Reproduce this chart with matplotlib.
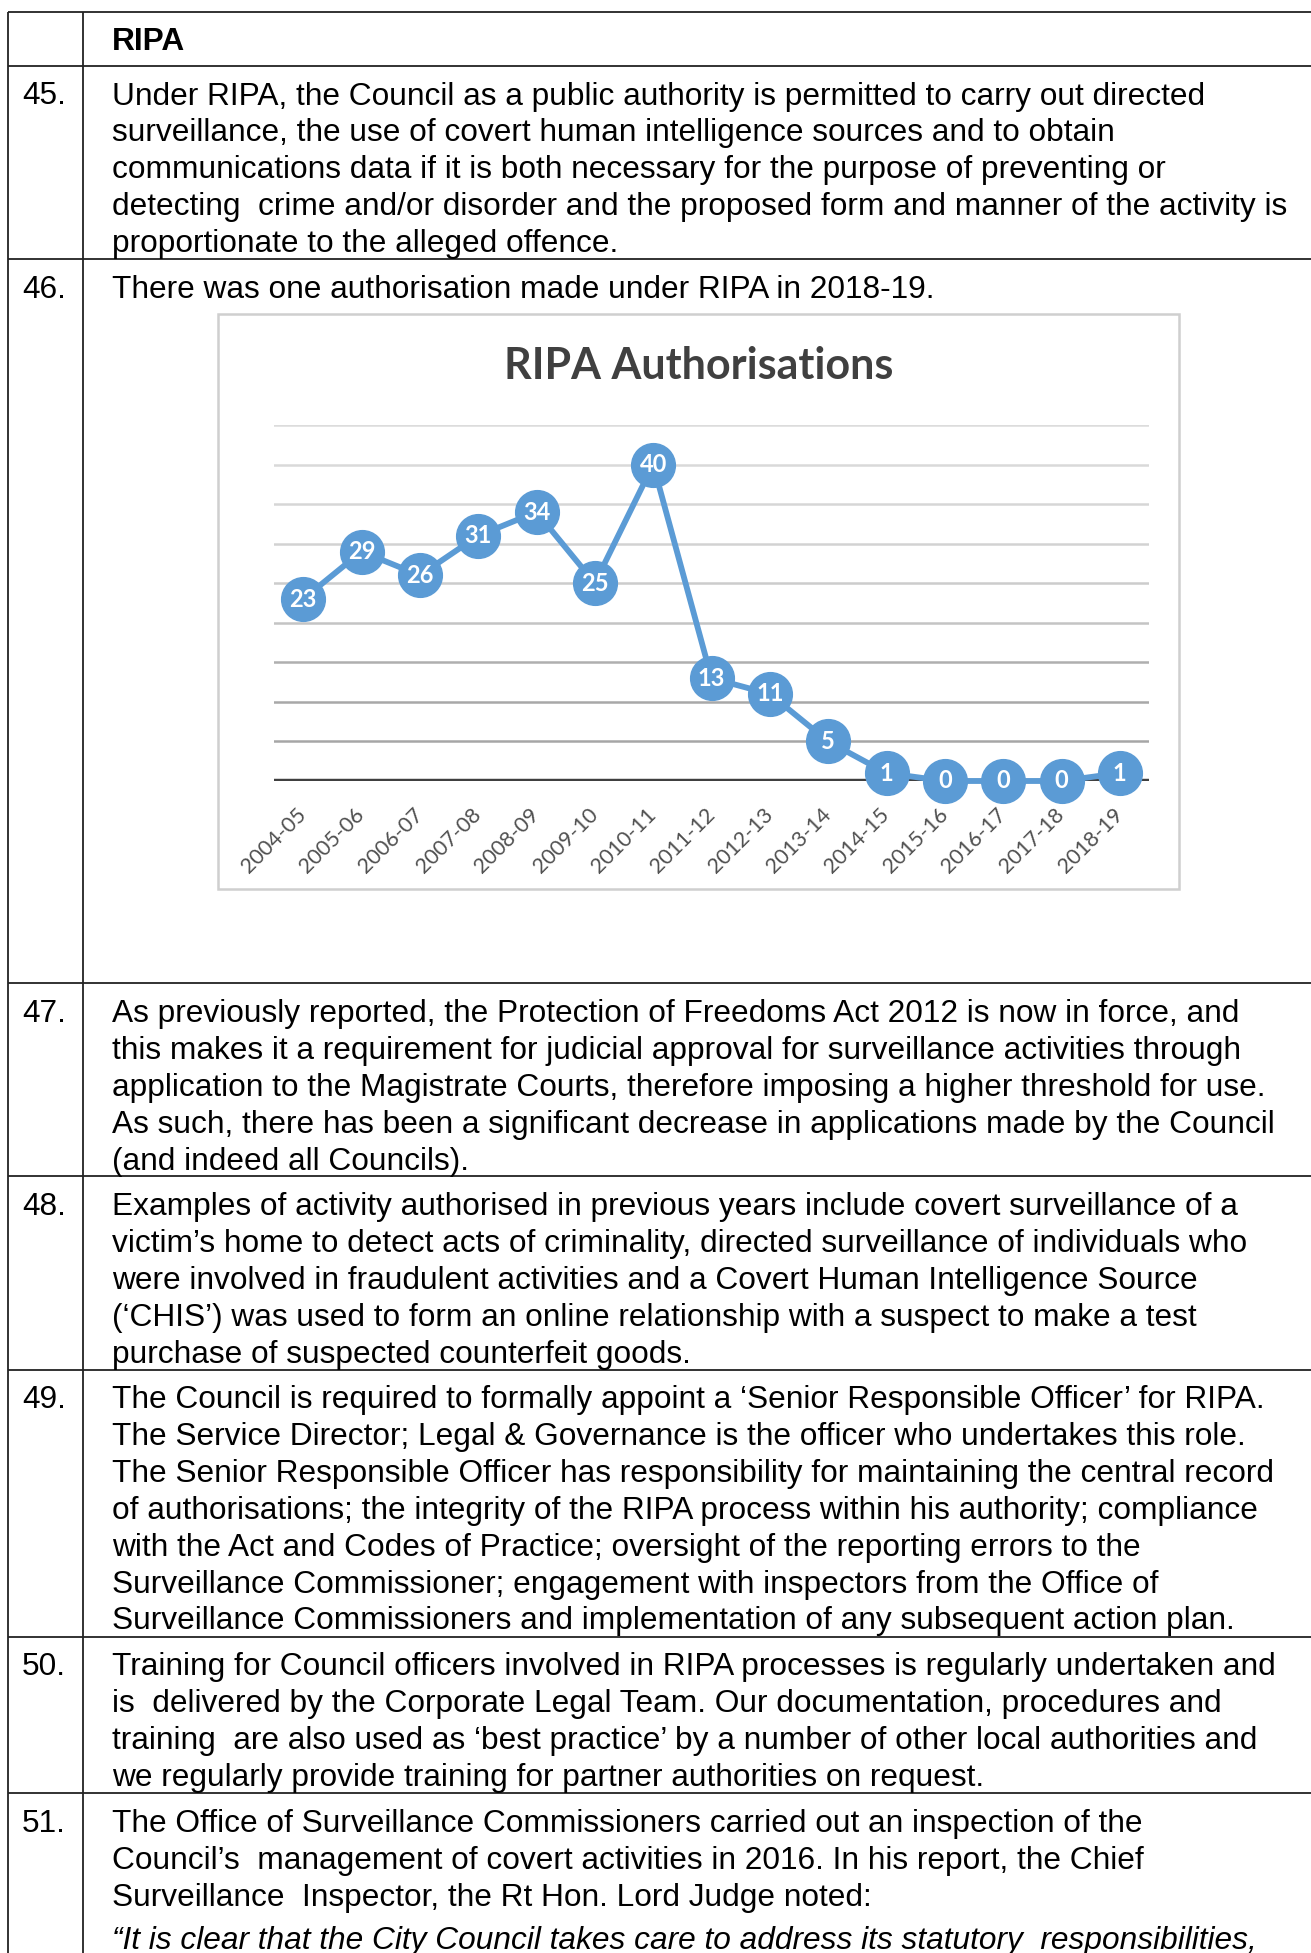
import matplotlib.pyplot as plt
from matplotlib.patches import Rectangle

# chart data
years = ['2004-05', '2005-06', '2006-07', '2007-08', '2008-09', '2009-10', '2010-11',
         '2011-12', '2012-13', '2013-14', '2014-15', '2015-16', '2016-17', '2017-18', '2018-19']
authorisations = [23, 29, 26, 31, 34, 25, 40, 13, 11, 5, 1, 0, 0, 0, 1]
grid_values = [5, 10, 15, 20, 25, 30, 35, 40, 45]
chart_title = 'RIPA Authorisations'

# document text, one list of lines per numbered paragraph
header = 'RIPA'
para_numbers = ['45.', '46.', '47.', '48.', '49.', '50.', '51.']
para_45 = ['Under RIPA, the Council as a public authority is permitted to carry out directed',
           'surveillance, the use of covert human intelligence sources and to obtain',
           'communications data if it is both necessary for the purpose of preventing or',
           'detecting  crime and/or disorder and the proposed form and manner of the activity is',
           'proportionate to the alleged offence.']
para_46 = ['There was one authorisation made under RIPA in 2018-19.']
para_47 = ['As previously reported, the Protection of Freedoms Act 2012 is now in force, and',
           'this makes it a requirement for judicial approval for surveillance activities through',
           'application to the Magistrate Courts, therefore imposing a higher threshold for use.',
           'As such, there has been a significant decrease in applications made by the Council',
           '(and indeed all Councils).']
para_48 = ['Examples of activity authorised in previous years include covert surveillance of a',
           'victim\u2019s home to detect acts of criminality, directed surveillance of individuals who',
           'were involved in fraudulent activities and a Covert Human Intelligence Source',
           '(\u2018CHIS\u2019) was used to form an online relationship with a suspect to make a test',
           'purchase of suspected counterfeit goods.']
para_49 = ['The Council is required to formally appoint a \u2018Senior Responsible Officer\u2019 for RIPA.',
           'The Service Director; Legal & Governance is the officer who undertakes this role.',
           'The Senior Responsible Officer has responsibility for maintaining the central record',
           'of authorisations; the integrity of the RIPA process within his authority; compliance',
           'with the Act and Codes of Practice; oversight of the reporting errors to the',
           'Surveillance Commissioner; engagement with inspectors from the Office of',
           'Surveillance Commissioners and implementation of any subsequent action plan.']
para_50 = ['Training for Council officers involved in RIPA processes is regularly undertaken and',
           'is  delivered by the Corporate Legal Team. Our documentation, procedures and',
           'training  are also used as \u2018best practice\u2019 by a number of other local authorities and',
           'we regularly provide training for partner authorities on request.']
para_51 = ['The Office of Surveillance Commissioners carried out an inspection of the',
           'Council\u2019s  management of covert activities in 2016. In his report, the Chief',
           'Surveillance  Inspector, the Rt Hon. Lord Judge noted:']
quote_51 = '\u201cIt is clear that the City Council takes care to address its statutory  responsibilities,'

W, H = 1311, 1953
fig = plt.figure(figsize=(W / 100, H / 100), dpi=100)
page = fig.add_axes([0, 0, 1, 1])
page.set_xlim(0, W)
page.set_ylim(H, 0)
page.axis('off')

# table grid
row_lines = [12, 66, 259, 983, 1176, 1370, 1637, 1793]
for y in row_lines:
    page.plot([8, W], [y, y], color='#222222', lw=1.3, solid_capstyle='butt')
for x in [8, 83]:
    page.plot([x, x], [12, H], color='#222222', lw=1.3, solid_capstyle='butt')

body = dict(family='Liberation Sans', fontsize=22.8, color='black', va='baseline')
page.text(112, 50, header, fontweight='bold', **body)

paragraphs = [para_45, para_46, para_47, para_48, para_49, para_50, para_51]
first_baselines = [104.5, 298, 1022, 1215, 1408, 1675, 1832]
line_step = 36.9
for num, lines, y0 in zip(para_numbers, paragraphs, first_baselines):
    page.text(22, y0, num, **body)
    for k, line in enumerate(lines):
        page.text(112, y0 + k * line_step, line, **body)
page.text(112, 1949, quote_51, style='italic', **body)

# chart frame and title
page.add_patch(Rectangle((218, 314), 961, 575, fill=False, ec='#cfcfcf', lw=1.8))
page.text(699, 379, chart_title, family='Lato', fontweight='bold', fontsize=31,
          color='#404040', ha='center', va='baseline')

# plot area
ax = fig.add_axes([274 / W, 1 - 781 / H, 875 / W, 356 / H])
ax.set_xlim(-0.5, len(years) - 0.5)
ax.set_ylim(0, 45)
for s in ax.spines.values():
    s.set_visible(False)
ax.set_facecolor('none')

grid_colors = ['#a6a6a6', '#a8a8a8', '#afafaf', '#c4c4c4', '#cccccc', '#d2d2d2', '#d6d6d6', '#d9d9d9', '#dcdcdc']
for v, c in zip(grid_values, grid_colors):
    ax.axhline(v, color=c, lw=1.8, zorder=1)
ax.axhline(0, color='#404040', lw=3.2, zorder=2)

xs = list(range(len(years)))
ax.plot(xs, authorisations, color='#5b9bd5', lw=4.2, marker='o', markersize=31.5,
        markerfacecolor='#5b9bd5', markeredgecolor='#5b9bd5', zorder=3, clip_on=False)
for x, v in zip(xs, authorisations):
    ax.text(x, v, str(v), family='Lato', fontweight='bold', fontsize=17, color='white',
            ha='center', va='center', zorder=4)

ax.set_yticks([])
ax.set_xticks(xs)
ax.set_xticklabels(years, rotation=45, ha='right', va='center', rotation_mode='anchor',
                   family='Lato', fontsize=15.5, color='#505050')
ax.tick_params(axis='x', length=0, pad=22)

fig.savefig('out.png', dpi=100)
